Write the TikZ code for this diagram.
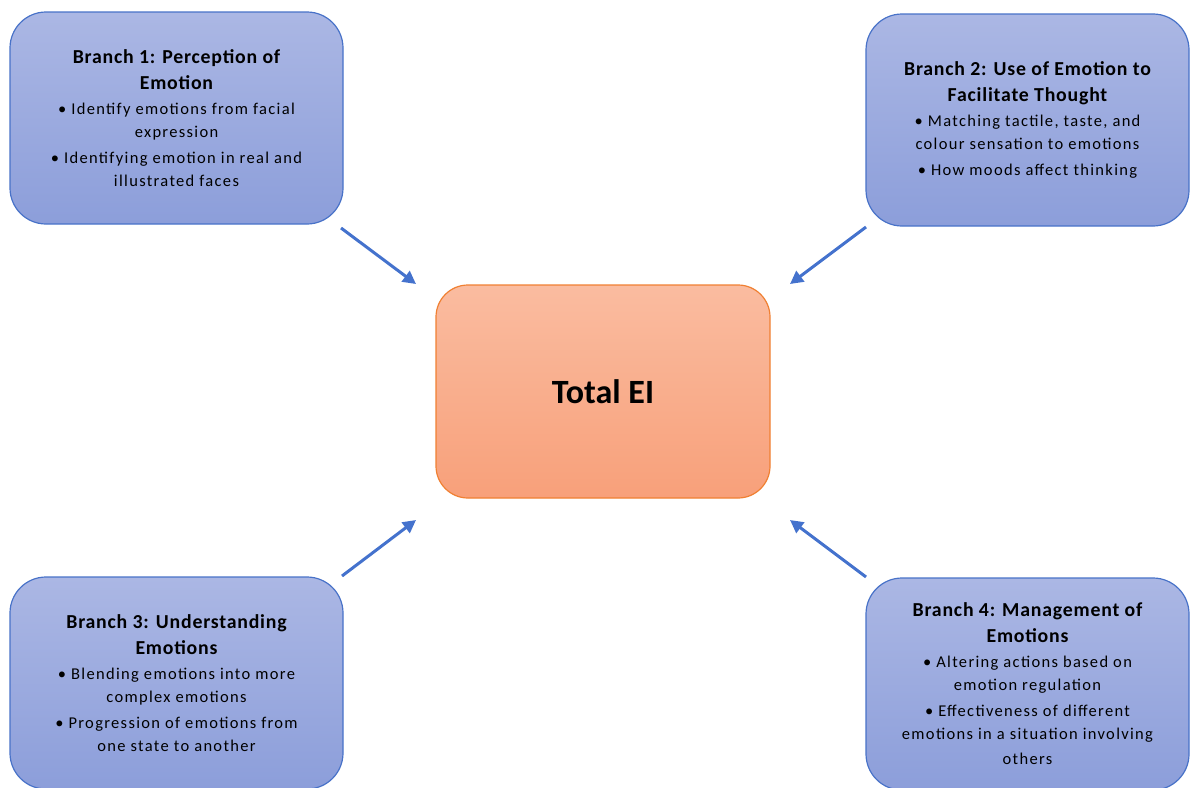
\documentclass[tikz,border=0pt]{standalone}
\usepackage{fontspec}
\setmainfont{Carlito}
\newfontfamily\bodyf[LetterSpace=8]{Carlito}
\newfontfamily\titlef[LetterSpace=4]{Carlito}
\usetikzlibrary{arrows.meta}
\definecolor{bluetop}{RGB}{171,183,228}
\definecolor{bluebot}{RGB}{140,158,218}
\definecolor{blueedge}{RGB}{72,114,200}
\definecolor{oratop}{RGB}{250,188,160}
\definecolor{orabot}{RGB}{248,160,122}
\definecolor{oraedge}{RGB}{240,128,50}
\definecolor{arrowblue}{RGB}{68,114,205}
\tikzset{
  branch/.style={draw=blueedge, line width=1.2pt, top color=bluetop, bottom color=bluebot,
    rounded corners=36pt, minimum width=333pt, minimum height=212pt, inner sep=0pt, outer sep=0pt,
    align=center, font=\bodyf\fontsize{16.5}{23}\selectfont},
  total/.style={draw=oraedge, line width=1.2pt, top color=oratop, bottom color=orabot,
    rounded corners=32pt, minimum width=334pt, minimum height=213pt, inner sep=0pt, outer sep=0pt,
    align=center, font=\bfseries\fontsize{34}{40}\selectfont},
  link/.style={draw=arrowblue, line width=3pt, -{Triangle[length=13pt,width=13pt]}},
}
\newcommand{\ttl}[1]{{\titlef\bfseries\fontsize{19.8}{23}\selectfont #1}}
\begin{document}
\begin{tikzpicture}[x=1pt,y=-1pt]
\useasboundingbox (0,0) rectangle (1190,787);
\clip (0,0) rectangle (1190,787);
\node[branch] (b1) at (176.5,118) {\ttl{Branch 1: Perception of}\\[3pt]\ttl{Emotion}\\[2pt]
  \textbullet\ Identify emotions from facial\\ expression\\[3pt]
  \textbullet\ Identifying emotion in real and\\ illustrated faces};
\node[branch, minimum width=323pt] (b2) at (1027.5,120) {\ttl{Branch 2: Use of Emotion to}\\[3pt]\ttl{Facilitate Thought}\\[2pt]
  \textbullet\ Matching tactile, taste, and\\ colour sensation to emotions\\[3pt]
  \textbullet\ How moods affect thinking};
\node[branch] (b3) at (176.5,683) {\ttl{Branch 3: Understanding}\\[3pt]\ttl{Emotions}\\[2pt]
  \textbullet\ Blending emotions into more\\ complex emotions\\[3pt]
  \textbullet\ Progression of emotions from\\ one state to another};
\node[branch, minimum width=323pt] (b4) at (1027.5,684) {\ttl{Branch 4: Management of}\\[3pt]\ttl{Emotions}\\[2pt]
  \textbullet\ Altering actions based on\\ emotion regulation\\[3pt]
  \textbullet\ Effectiveness of different\\ emotions in a situation involving\\[2pt] others};
\node[total] (c) at (603,391.5) {Total EI};
\draw[link] ([shift={(-2,4)}]b1.south east) -- ([shift={(-20,-1)}]c.north west);
\draw[link] ([shift={(0,1)}]b2.south west) -- ([shift={(20,-1)}]c.north east);
\draw[link] ([shift={(-1,-1)}]b3.north east) -- ([shift={(-20,22)}]c.south west);
\draw[link] ([shift={(0,-1)}]b4.north west) -- ([shift={(20,22)}]c.south east);
\end{tikzpicture}
\end{document}
